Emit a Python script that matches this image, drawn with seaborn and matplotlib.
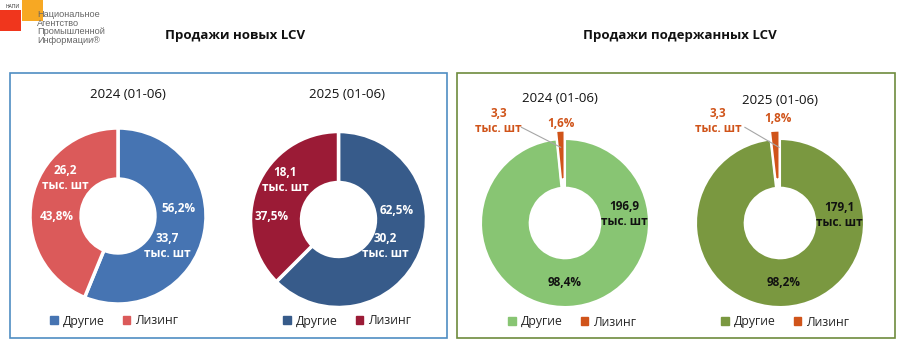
import numpy as np
import matplotlib
matplotlib.use("Agg")
import matplotlib.pyplot as plt
from matplotlib.patches import Rectangle, Patch
import seaborn as sns

# ── Data ──────────────────────────────────────────────────────────────────────
CATEGORIES = ["Другие", "Лизинг"]
PERIODS = ["2024 (01-06)", "2025 (01-06)"]

NEW_2024_SHARE = [56.2, 43.8]
NEW_2024_UNITS = [33.7, 26.2]
NEW_2025_SHARE = [62.5, 37.5]
NEW_2025_UNITS = [30.2, 18.1]

USED_2024_SHARE = [98.4, 1.6]
USED_2024_UNITS = [196.9, 3.3]
USED_2025_SHARE = [98.2, 1.8]
USED_2025_UNITS = [179.1, 3.3]

# ── Style ─────────────────────────────────────────────────────────────────────
sns.set_theme(style="white")
plt.rcParams["font.family"] = ["Open Sans", "DejaVu Sans"]

COL_NEW_24 = ["#4674B2", "#DB5A5A"]
COL_NEW_25 = ["#375B8A", "#9B1B36"]
COL_USED_24 = ["#88C573", "#D0541A"]
COL_USED_25 = ["#7A9840", "#D0541A"]
ORANGE = "#D0541A"

W, H = 901, 356
fig = plt.figure(figsize=(W / 100, H / 100), dpi=100)


def fx(x):
    return x / W


def fy(y):
    return 1 - y / H


def fmt_num(v, pct=False):
    s = f"{v:.1f}".replace(".", ",")
    return s + "%" if pct else s


def donut(cx, cy, r, share, colors, explode=None, edge=2.5):
    ax = fig.add_axes([fx(cx - r), fy(cy + r), 2 * r / W, 2 * r / H])
    wedges, _ = ax.pie(share, colors=colors, startangle=90, counterclock=False,
                       radius=1, explode=explode,
                       wedgeprops=dict(width=0.58, edgecolor="white", linewidth=edge))
    for w in wedges:
        w.set_clip_on(False)
    ax.set_xlim(-1, 1)
    ax.set_ylim(-1, 1)
    ax.set_aspect("equal")
    ax.axis("off")
    return ax


def legend(cx, cy, colors):
    handles = [Patch(facecolor=c, edgecolor=c, label=l) for c, l in zip(colors, CATEGORIES)]
    fig.legend(handles=handles, loc="center", bbox_to_anchor=(fx(cx), fy(cy)),
               ncol=2, frameon=False, fontsize=8.8, handlelength=0.6, handleheight=0.6,
               handletextpad=0.4, columnspacing=1.5)


# ── Logo ──────────────────────────────────────────────────────────────────────
fig.patches.append(Rectangle((fx(0), fy(31)), 21 / W, 21 / H, transform=fig.transFigure,
                             facecolor="#F0361D", edgecolor="none"))
fig.patches.append(Rectangle((fx(22), fy(21)), 21 / W, 21 / H, transform=fig.transFigure,
                             facecolor="#F7A823", edgecolor="none"))
fig.text(fx(6), fy(6), "НАПИ", fontsize=3.5, color="#222222", va="center")
fig.text(fx(37), fy(10), "Национальное\nАгентство\nПромышленной\nИнформации®",
         fontsize=6.6, color="#666666", va="top", ha="left", linespacing=0.95,
         family=["Liberation Sans Narrow", "Liberation Sans", "DejaVu Sans"])

# ── Section titles and frames ─────────────────────────────────────────────────
fig.text(fx(235), fy(36), "Продажи новых LCV", fontsize=9.5, fontweight="bold",
         ha="center", va="center", color="#111111")
fig.text(fx(680), fy(36), "Продажи подержанных LCV", fontsize=9.5, fontweight="bold",
         ha="center", va="center", color="#111111")

fig.patches.append(Rectangle((fx(10), fy(338)), 437 / W, 265 / H, transform=fig.transFigure,
                             facecolor="none", edgecolor="#4F8DC2", linewidth=1.2))
fig.patches.append(Rectangle((fx(457), fy(338)), 438 / W, 265 / H, transform=fig.transFigure,
                             facecolor="none", edgecolor="#6E8B3D", linewidth=1.2))

# ── New LCV ───────────────────────────────────────────────────────────────────
lbl = dict(color="white", fontsize=8.5, fontweight="bold", ha="center", va="center",
           linespacing=1.2)

ax = donut(118, 216, 88, NEW_2024_SHARE, COL_NEW_24)
ax.text(0.69, 0.09, fmt_num(NEW_2024_SHARE[0], True), **lbl)
ax.text(0.56, -0.34, fmt_num(NEW_2024_UNITS[0]) + "\nтыс. шт", **lbl)
ax.text(-0.60, 0.43, fmt_num(NEW_2024_UNITS[1]) + "\nтыс. шт", **lbl)
ax.text(-0.70, -0.01, fmt_num(NEW_2024_SHARE[1], True), **lbl)
fig.text(fx(128), fy(94), PERIODS[0], fontsize=9.5, ha="center", va="center", color="#111111")
legend(114, 321, COL_NEW_24)

ax = donut(338.5, 219.5, 88, NEW_2025_SHARE, COL_NEW_25)
ax.text(0.66, 0.10, fmt_num(NEW_2025_SHARE[0], True), **lbl)
ax.text(0.53, -0.30, fmt_num(NEW_2025_UNITS[0]) + "\nтыс. шт", **lbl)
ax.text(-0.61, 0.45, fmt_num(NEW_2025_UNITS[1]) + "\nтыс. шт", **lbl)
ax.text(-0.76, 0.03, fmt_num(NEW_2025_SHARE[1], True), **lbl)
fig.text(fx(347), fy(94), PERIODS[1], fontsize=9.5, ha="center", va="center", color="#111111")
legend(347, 321, COL_NEW_25)

# ── Used LCV ──────────────────────────────────────────────────────────────────
dark = dict(lbl, color="#111111")
orng = dict(lbl, color=ORANGE)

ax = donut(565, 223, 84, USED_2024_SHARE, COL_USED_24, explode=[0, 0.1], edge=1.5)
ax.text(0.71, 0.11, fmt_num(USED_2024_UNITS[0]) + "\nтыс. шт", **dark)
ax.text(0.0, -0.71, fmt_num(USED_2024_SHARE[0], True), **dark)
ax.text(-0.05, 1.19, fmt_num(USED_2024_SHARE[1], True), **orng)
ax.text(-0.79, 1.21, fmt_num(USED_2024_UNITS[1]) + "\nтыс. шт", **orng)
ax.plot([-0.52, -0.05], [1.14, 0.90], color="#A6A6A6", lw=0.8, clip_on=False)
fig.text(fx(560), fy(99), PERIODS[0], fontsize=9.5, ha="center", va="center", color="#111111")
legend(572, 322, COL_USED_24)

ax = donut(780, 223, 84, USED_2025_SHARE, COL_USED_25, explode=[0, 0.1], edge=1.5)
ax.text(0.71, 0.09, fmt_num(USED_2025_UNITS[0]) + "\nтыс. шт", **dark)
ax.text(0.04, -0.71, fmt_num(USED_2025_SHARE[0], True), **dark)
ax.text(-0.02, 1.25, fmt_num(USED_2025_SHARE[1], True), **orng)
ax.text(-0.74, 1.21, fmt_num(USED_2025_UNITS[1]) + "\nтыс. шт", **orng)
ax.plot([-0.42, -0.01], [1.14, 0.90], color="#A6A6A6", lw=0.8, clip_on=False)
fig.text(fx(780), fy(100), PERIODS[1], fontsize=9.5, ha="center", va="center", color="#111111")
legend(785, 322, COL_USED_25)

fig.savefig("out.png", dpi=100, facecolor="white")
plt.close(fig)
